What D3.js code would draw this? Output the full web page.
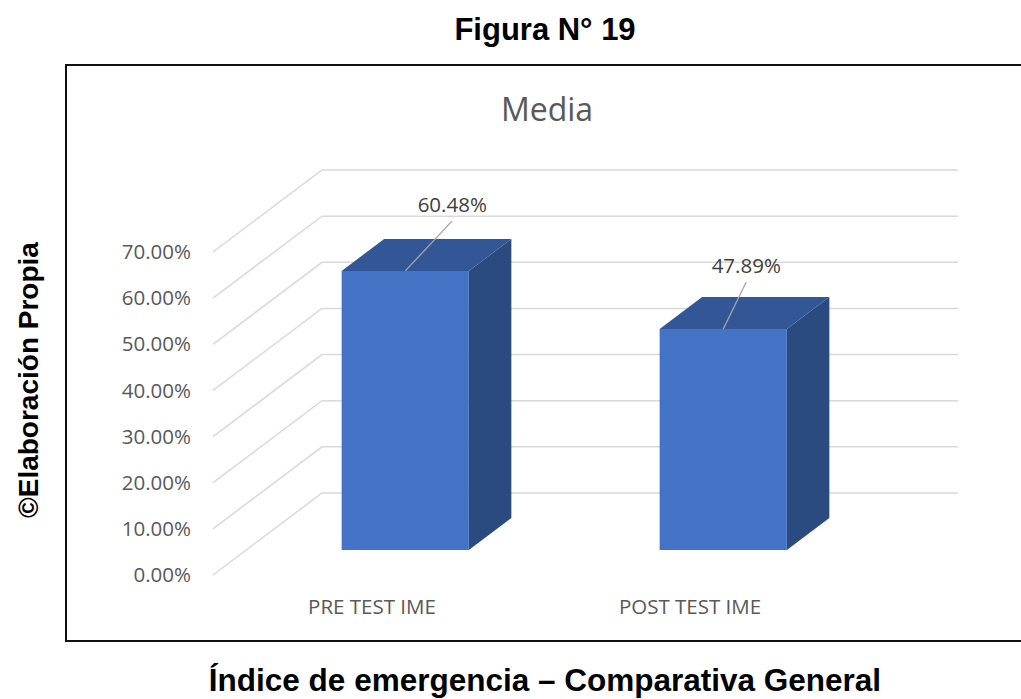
<!DOCTYPE html>
<html>
<head>
<meta charset="utf-8">
<script src="https://cdn.jsdelivr.net/npm/d3@7"></script>
<style>
  body { margin: 0; background: #fff; }
</style>
</head>
<body>
<div id="chart"></div>
<script>
// Chart data
var categories = ["PRE TEST IME", "POST TEST IME"];
var values = [60.48, 47.89];
var tickValues = [0, 10, 20, 30, 40, 50, 60, 70];

// Page size
var svgWidth = 1021;
var svgHeight = 699;

// Floor / wall geometry of the 3D box
var x0 = 213;        // front-left corner of the floor
var plotWidth = 636; // width of the back wall
var depthX = 109;    // horizontal shift from front to back
var depthY = 82;     // vertical shift from front to back
var barFront = 0.305, barBack = 0.695; // bar depth as share of floor depth

var svg = d3.select("#chart")
    .append("svg")
    .attr("width", svgWidth)
    .attr("height", svgHeight);

// Scales
var yScale = d3.scaleLinear()
    .domain([0, 70])
    .range([575, 252]);

var xScale = d3.scaleBand()
    .domain(categories)
    .range([0, plotWidth])
    .paddingInner(0.6)
    .paddingOuter(0.3);

// project (u along category axis, v value, t depth 0..1) to screen
function proj(u, v, t) {
    return [x0 + u + depthX * t, yScale(v) - depthY * t];
}

// Outer frame (its right edge runs off the page)
svg.append("rect")
    .attr("x", 66)
    .attr("y", 65)
    .attr("width", 1000)
    .attr("height", 576)
    .attr("fill", "none")
    .attr("stroke", "#111")
    .attr("stroke-width", 2);

// Page titles
svg.append("text")
    .attr("x", 545)
    .attr("y", 40)
    .attr("text-anchor", "middle")
    .attr("font-family", "Liberation Sans, Arial, sans-serif")
    .attr("font-weight", "bold")
    .attr("font-size", 31)
    .text("Figura N° 19");

svg.append("text")
    .attr("x", 545)
    .attr("y", 691)
    .attr("text-anchor", "middle")
    .attr("font-family", "Liberation Sans, Arial, sans-serif")
    .attr("font-weight", "bold")
    .attr("font-size", 31.5)
    .text("Índice de emergencia – Comparativa General");

svg.append("text")
    .attr("transform", "translate(38, 380) rotate(-90)")
    .attr("text-anchor", "middle")
    .attr("font-family", "Liberation Sans, Arial, sans-serif")
    .attr("font-weight", "bold")
    .attr("font-size", 28)
    .text("©Elaboración Propia");

// Chart title
svg.append("text")
    .attr("x", 547)
    .attr("y", 121)
    .attr("text-anchor", "middle")
    .attr("font-family", "Open Sans, sans-serif")
    .attr("font-size", 32)
    .attr("fill", "#595959")
    .text("Media");

// Gridlines: floor diagonal + back wall line
var line = d3.line();
svg.append("g")
    .selectAll("path")
    .data(tickValues)
    .enter()
    .append("path")
    .attr("d", d => line([proj(0, d, 0), proj(0, d, 1), proj(plotWidth, d, 1)]))
    .attr("fill", "none")
    .attr("stroke", "#d9d9d9")
    .attr("stroke-width", 1.5);

// Y tick labels
svg.append("g")
    .selectAll("text")
    .data(tickValues)
    .enter()
    .append("text")
    .attr("x", 191)
    .attr("y", d => yScale(d))
    .attr("dy", "0.35em")
    .attr("text-anchor", "end")
    .attr("font-family", "Open Sans, sans-serif")
    .attr("font-size", 20.5)
    .attr("fill", "#595959")
    .text(d => d3.format(".2f")(d) + "%");

// X category labels
svg.append("g")
    .selectAll("text")
    .data(categories)
    .enter()
    .append("text")
    .attr("x", d => proj(xScale(d) + xScale.bandwidth() / 2, 0, 0)[0])
    .attr("y", 607)
    .attr("dy", "0.35em")
    .attr("text-anchor", "middle")
    .attr("font-family", "Open Sans, sans-serif")
    .attr("font-size", 20.5)
    .attr("fill", "#595959")
    .text(d => d);

// 3D bars
var bars = svg.append("g")
    .selectAll("g")
    .data(values)
    .enter()
    .append("g");

function poly(pts) { return line(pts) + "Z"; }

// side face
bars.append("path")
    .attr("d", (d, i) => {
        var u = xScale(categories[i]) + xScale.bandwidth();
        return poly([proj(u, 0, barFront), proj(u, 0, barBack), proj(u, d, barBack), proj(u, d, barFront)]);
    })
    .attr("fill", "#2b4a7f");

// top face
bars.append("path")
    .attr("d", (d, i) => {
        var u0 = xScale(categories[i]);
        var u1 = u0 + xScale.bandwidth();
        return poly([proj(u0, d, barFront), proj(u1, d, barFront), proj(u1, d, barBack), proj(u0, d, barBack)]);
    })
    .attr("fill", "#335796");

// front face
bars.append("path")
    .attr("d", (d, i) => {
        var u0 = xScale(categories[i]);
        var u1 = u0 + xScale.bandwidth();
        return poly([proj(u0, 0, barFront), proj(u1, 0, barFront), proj(u1, d, barFront), proj(u0, d, barFront)]);
    })
    .attr("fill", "#4472c4");

// Data labels with leader lines
var labelNudge = [[47, -50], [23, -47]];

function topMid(d, i) {
    return proj(xScale(categories[i]) + xScale.bandwidth() / 2, d, barFront);
}

bars.append("line")
    .attr("x1", (d, i) => topMid(d, i)[0])
    .attr("y1", (d, i) => topMid(d, i)[1])
    .attr("x2", (d, i) => topMid(d, i)[0] + labelNudge[i][0])
    .attr("y2", (d, i) => topMid(d, i)[1] + labelNudge[i][1])
    .attr("stroke", "#a6a6a6")
    .attr("stroke-width", 1.3);

bars.append("text")
    .attr("x", (d, i) => topMid(d, i)[0] + labelNudge[i][0])
    .attr("y", (d, i) => topMid(d, i)[1] + labelNudge[i][1] - 16)
    .attr("dy", "0.35em")
    .attr("text-anchor", "middle")
    .attr("font-family", "Open Sans, sans-serif")
    .attr("font-size", 20.5)
    .attr("fill", "#404040")
    .text(d => d3.format(".2f")(d) + "%");
</script>
</body>
</html>
